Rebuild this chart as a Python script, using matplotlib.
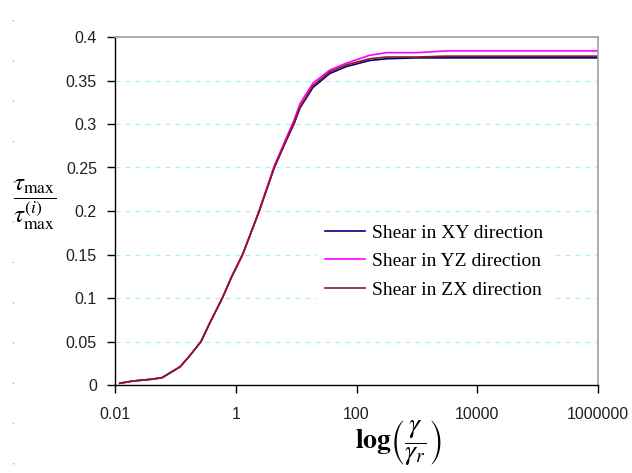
import matplotlib
matplotlib.use("Agg")
import matplotlib.pyplot as plt
from matplotlib.lines import Line2D
from matplotlib.ticker import FixedLocator, FixedFormatter, NullLocator

# ---- data ----
x_vals = [0.012, 0.02, 0.04, 0.06, 0.082, 0.12, 0.17, 0.266, 0.37, 0.6, 0.85, 1.3,
          2.0, 2.45, 4.35, 6.95, 9.2, 11.5, 19, 36, 68, 165, 315, 1000, 3000, 1e6]
xy_vals = [0.002, 0.0046, 0.0066, 0.0084, 0.014, 0.021, 0.033, 0.050, 0.071, 0.100,
           0.124, 0.150, 0.184, 0.200, 0.250, 0.282, 0.300, 0.318, 0.342, 0.358,
           0.366, 0.373, 0.375, 0.376, 0.376, 0.376]
yz_vals = [0.002, 0.0046, 0.0066, 0.0084, 0.014, 0.021, 0.033, 0.050, 0.071, 0.100,
           0.124, 0.150, 0.184, 0.201, 0.252, 0.285, 0.304, 0.323, 0.347, 0.362,
           0.370, 0.379, 0.382, 0.382, 0.384, 0.384]
zx_vals = [0.002, 0.0046, 0.0066, 0.0084, 0.014, 0.021, 0.033, 0.050, 0.071, 0.100,
           0.124, 0.150, 0.184, 0.200, 0.250, 0.282, 0.301, 0.319, 0.344, 0.360,
           0.368, 0.375, 0.377, 0.377, 0.378, 0.378]
series_names = ["Shear in XY direction", "Shear in YZ direction", "Shear in ZX direction"]
series_colors = ["#000080", "#ff00ff", "#8b1a1a"]

x_ticks = [0.01, 1, 100, 10000, 1000000]
x_tick_labels = ["0.01", "1", "100", "10000", "1000000"]
y_ticks = [0, 0.05, 0.1, 0.15, 0.2, 0.25, 0.3, 0.35, 0.4]
y_tick_labels = ["0", "0.05", "0.1", "0.15", "0.2", "0.25", "0.3", "0.35", "0.4"]

plt.rcParams['mathtext.fontset'] = 'stix'

fig = plt.figure(figsize=(6.32, 4.73), dpi=100)
ax = fig.add_axes([115/632, 1-385/473, (598-115)/632, (385-37)/473])

for yv, name, c in zip([xy_vals, yz_vals, zx_vals], series_names, series_colors):
    ax.plot(x_vals, yv, color=c, lw=1.2, label=name)

ax.set_xscale('log')
ax.set_xlim(0.01, 1e6)
ax.set_ylim(0, 0.4)
ax.xaxis.set_major_locator(FixedLocator(x_ticks))
ax.xaxis.set_major_formatter(FixedFormatter(x_tick_labels))
ax.xaxis.set_minor_locator(NullLocator())
ax.yaxis.set_major_locator(FixedLocator(y_ticks))
ax.yaxis.set_major_formatter(FixedFormatter(y_tick_labels))

ax.yaxis.grid(True, color='#aaf2f2', linestyle=(0, (4, 4)), lw=0.9)
ax.set_axisbelow(True)

for s in ['top', 'right']:
    ax.spines[s].set_color('#a0a0a0')
    ax.spines[s].set_linewidth(1.2)
for s in ['left', 'bottom']:
    ax.spines[s].set_color('black')
    ax.spines[s].set_linewidth(1.0)

ax.tick_params(axis='both', direction='out', length=6, width=1, colors='black',
               labelsize=11.5, labelcolor='#202020')
ax.tick_params(axis='x', pad=10)
ax.tick_params(axis='y', pad=7)
for lab in ax.get_xticklabels() + ax.get_yticklabels():
    lab.set_family(['Liberation Sans', 'DejaVu Sans'])

leg = ax.legend(loc='upper left', bbox_to_anchor=(0.418, 0.485), frameon=True,
                fancybox=False, edgecolor='none', facecolor='white', framealpha=1,
                prop={'family': 'Liberation Serif', 'size': 14},
                handlelength=2.06, handletextpad=0.36, labelspacing=0.56,
                borderaxespad=0)

fig.text(35/632, 1-205/473, r'$\dfrac{\tau_{\mathrm{max}}}{\tau_{\mathrm{max}}^{(i)}}$',
         fontsize=18, ha='center', va='center')
fig.text(398/632, 1-442/473, r'$\mathbf{log}\left(\dfrac{\gamma}{\gamma_r}\right)$',
         fontsize=20, ha='center', va='center')

# faint dotted line at the left edge
fig.add_artist(Line2D([13/632, 13/632], [0.02, 0.98], transform=fig.transFigure,
                      color='#b0b0b0', lw=1, linestyle=(0, (1, 28))))

fig.savefig('out.png', dpi=100)
